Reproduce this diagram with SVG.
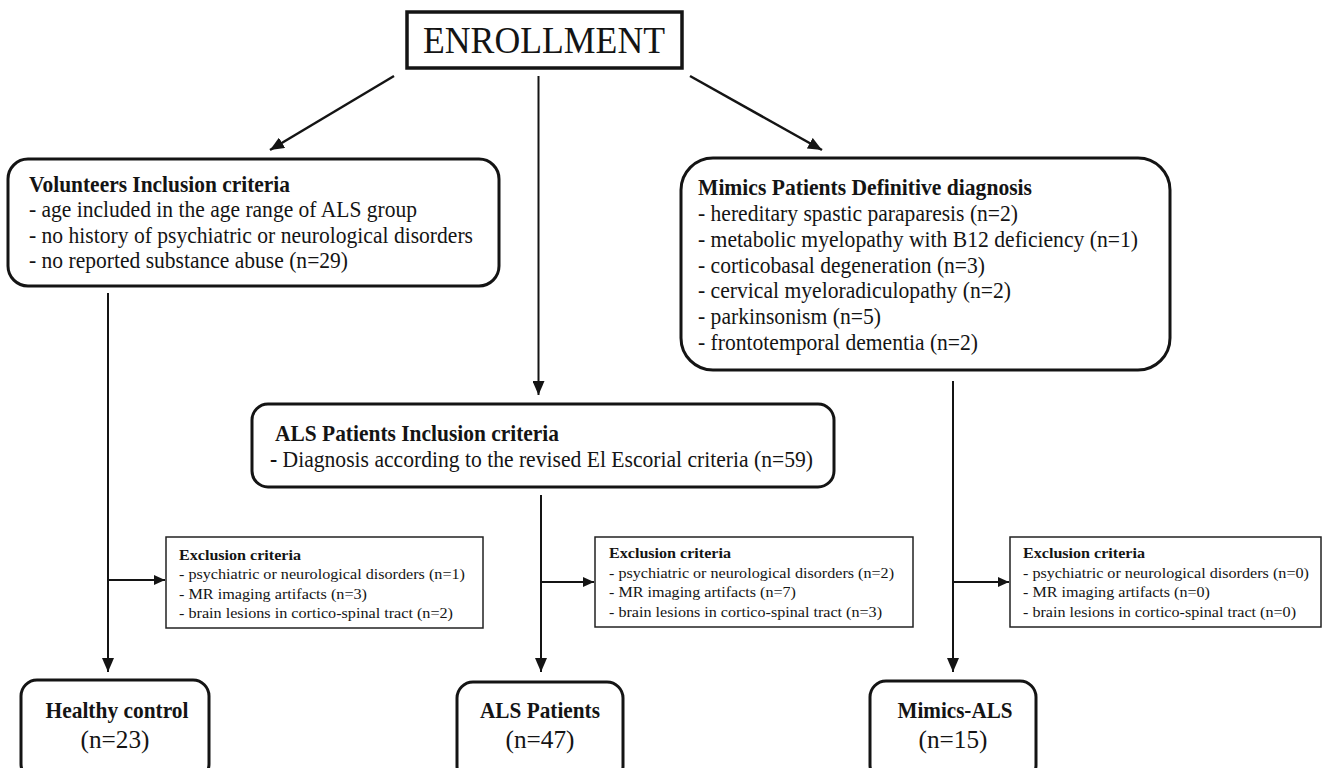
<svg xmlns="http://www.w3.org/2000/svg" width="1323" height="768" viewBox="0 0 1323 768">
<style>
text{font-family:"Liberation Serif","Times New Roman",serif;fill:#141414}
.b{font-weight:bold}
.box{fill:#fff;stroke:#141414;stroke-width:3}
.ex{fill:#fff;stroke:#222;stroke-width:1.5}
.c{stroke:#141414;fill:none}
.m{font-size:22.5px}
.s{font-size:15px}
.big{font-size:26px}
</style>
<defs>
<marker id="ah" markerUnits="userSpaceOnUse" markerWidth="14" markerHeight="12" refX="14" refY="6" orient="auto"><path d="M0,0 L14,6 L0,12 z" fill="#141414"/></marker>
<marker id="ahs" markerUnits="userSpaceOnUse" markerWidth="11" markerHeight="10" refX="11" refY="5" orient="auto"><path d="M0,0 L11,5 L0,10 z" fill="#141414"/></marker>
</defs>
<g id="connectors">
<line class="c" x1="394" y1="76" x2="270" y2="150" stroke-width="2.5" marker-end="url(#ah)"/>
<line class="c" x1="538.5" y1="76" x2="538.5" y2="395" stroke-width="2" marker-end="url(#ah)"/>
<line class="c" x1="690" y1="76" x2="822" y2="150" stroke-width="2.5" marker-end="url(#ah)"/>
<line class="c" x1="108" y1="293" x2="108" y2="672" stroke-width="2" marker-end="url(#ah)"/>
<line class="c" x1="541" y1="495" x2="541" y2="672" stroke-width="2" marker-end="url(#ah)"/>
<line class="c" x1="953" y1="381" x2="953" y2="672" stroke-width="2" marker-end="url(#ah)"/>
<line class="c" x1="108" y1="580" x2="165" y2="580" stroke-width="2" marker-end="url(#ahs)"/>
<line class="c" x1="541" y1="582" x2="594" y2="582" stroke-width="2" marker-end="url(#ahs)"/>
<line class="c" x1="953" y1="582" x2="1009" y2="582" stroke-width="2" marker-end="url(#ahs)"/>
</g>
<g id="enrollment">
<rect x="407" y="12" width="275" height="56" fill="#fff" stroke="#141414" stroke-width="3.5"/>
<text x="423" y="53" font-size="37" textLength="242" lengthAdjust="spacingAndGlyphs">ENROLLMENT</text>
</g>
<g id="volunteers">
<rect class="box" x="8" y="159" width="491" height="127" rx="20"/>
<text class="m b" x="29" y="192" textLength="261" lengthAdjust="spacingAndGlyphs">Volunteers Inclusion criteria</text>
<text class="m" x="29" y="217" textLength="388" lengthAdjust="spacingAndGlyphs">- age included in the age range of ALS group</text>
<text class="m" x="29" y="242.5" textLength="444" lengthAdjust="spacingAndGlyphs">- no history of psychiatric or neurological disorders</text>
<text class="m" x="29" y="268" textLength="319" lengthAdjust="spacingAndGlyphs">- no reported substance abuse (n=29)</text>
</g>
<g id="mimics">
<rect class="box" x="681" y="158" width="489" height="212" rx="32"/>
<text class="m b" x="698" y="195" textLength="334" lengthAdjust="spacingAndGlyphs">Mimics Patients Definitive diagnosis</text>
<text class="m" x="698" y="221" textLength="320" lengthAdjust="spacingAndGlyphs">- hereditary spastic paraparesis (n=2)</text>
<text class="m" x="698" y="247" textLength="440" lengthAdjust="spacingAndGlyphs">- metabolic myelopathy with B12 deficiency (n=1)</text>
<text class="m" x="698" y="272.5" textLength="287" lengthAdjust="spacingAndGlyphs">- corticobasal degeneration (n=3)</text>
<text class="m" x="698" y="298" textLength="313" lengthAdjust="spacingAndGlyphs">- cervical myeloradiculopathy (n=2)</text>
<text class="m" x="698" y="324" textLength="183" lengthAdjust="spacingAndGlyphs">- parkinsonism (n=5)</text>
<text class="m" x="698" y="350" textLength="280" lengthAdjust="spacingAndGlyphs">- frontotemporal dementia (n=2)</text>
</g>
<g id="als-inclusion">
<rect class="box" x="252" y="404" width="582" height="83" rx="16"/>
<text class="m b" x="275" y="441" textLength="284" lengthAdjust="spacingAndGlyphs">ALS Patients Inclusion criteria</text>
<text class="m" x="270" y="467" textLength="543" lengthAdjust="spacingAndGlyphs"><tspan class="b">-</tspan> Diagnosis according to the revised El Escorial criteria (n=59)</text>
</g>
<g id="exclusion-1">
<rect class="ex" x="166" y="537" width="317" height="91"/>
<text class="s b" x="179" y="560" textLength="122" lengthAdjust="spacingAndGlyphs">Exclusion criteria</text>
<text class="s" x="179" y="579" textLength="286" lengthAdjust="spacingAndGlyphs">- psychiatric or neurological disorders (n=1)</text>
<text class="s" x="179" y="598.5" textLength="188" lengthAdjust="spacingAndGlyphs">- MR imaging artifacts (n=3)</text>
<text class="s" x="179" y="618" textLength="274" lengthAdjust="spacingAndGlyphs">- brain lesions in cortico-spinal tract (n=2)</text>
</g>
<g id="exclusion-2">
<rect class="ex" x="595" y="537" width="318" height="90"/>
<text class="s b" x="609" y="558" textLength="122" lengthAdjust="spacingAndGlyphs">Exclusion criteria</text>
<text class="s" x="609" y="577.5" textLength="285" lengthAdjust="spacingAndGlyphs">- psychiatric or neurological disorders (n=2)</text>
<text class="s" x="609" y="597" textLength="187" lengthAdjust="spacingAndGlyphs">- MR imaging artifacts (n=7)</text>
<text class="s" x="609" y="616.5" textLength="273" lengthAdjust="spacingAndGlyphs">- brain lesions in cortico-spinal tract (n=3)</text>
</g>
<g id="exclusion-3">
<rect class="ex" x="1010" y="537" width="311" height="90"/>
<text class="s b" x="1023" y="558" textLength="122" lengthAdjust="spacingAndGlyphs">Exclusion criteria</text>
<text class="s" x="1023" y="577.5" textLength="286" lengthAdjust="spacingAndGlyphs">- psychiatric or neurological disorders (n=0)</text>
<text class="s" x="1023" y="597" textLength="187" lengthAdjust="spacingAndGlyphs">- MR imaging artifacts (n=0)</text>
<text class="s" x="1023" y="616.5" textLength="273" lengthAdjust="spacingAndGlyphs">- brain lesions in cortico-spinal tract (n=0)</text>
</g>
<g id="healthy-control">
<rect class="box" x="21" y="680" width="188" height="100" rx="16"/>
<text class="m b" x="117" y="718" text-anchor="middle" textLength="143" lengthAdjust="spacingAndGlyphs">Healthy control</text>
<text class="big" x="115" y="748" text-anchor="middle" textLength="69" lengthAdjust="spacingAndGlyphs">(n=23)</text>
</g>
<g id="als-patients">
<rect class="box" x="457" y="682" width="166" height="100" rx="16"/>
<text class="m b" x="540" y="718" text-anchor="middle" textLength="120" lengthAdjust="spacingAndGlyphs">ALS Patients</text>
<text class="big" x="540" y="748" text-anchor="middle" textLength="69" lengthAdjust="spacingAndGlyphs">(n=47)</text>
</g>
<g id="mimics-als">
<rect class="box" x="870" y="681" width="166" height="100" rx="16"/>
<text class="m b" x="955" y="718" text-anchor="middle" textLength="115" lengthAdjust="spacingAndGlyphs">Mimics-ALS</text>
<text class="big" x="953" y="748" text-anchor="middle" textLength="69" lengthAdjust="spacingAndGlyphs">(n=15)</text>
</g>
</svg>
